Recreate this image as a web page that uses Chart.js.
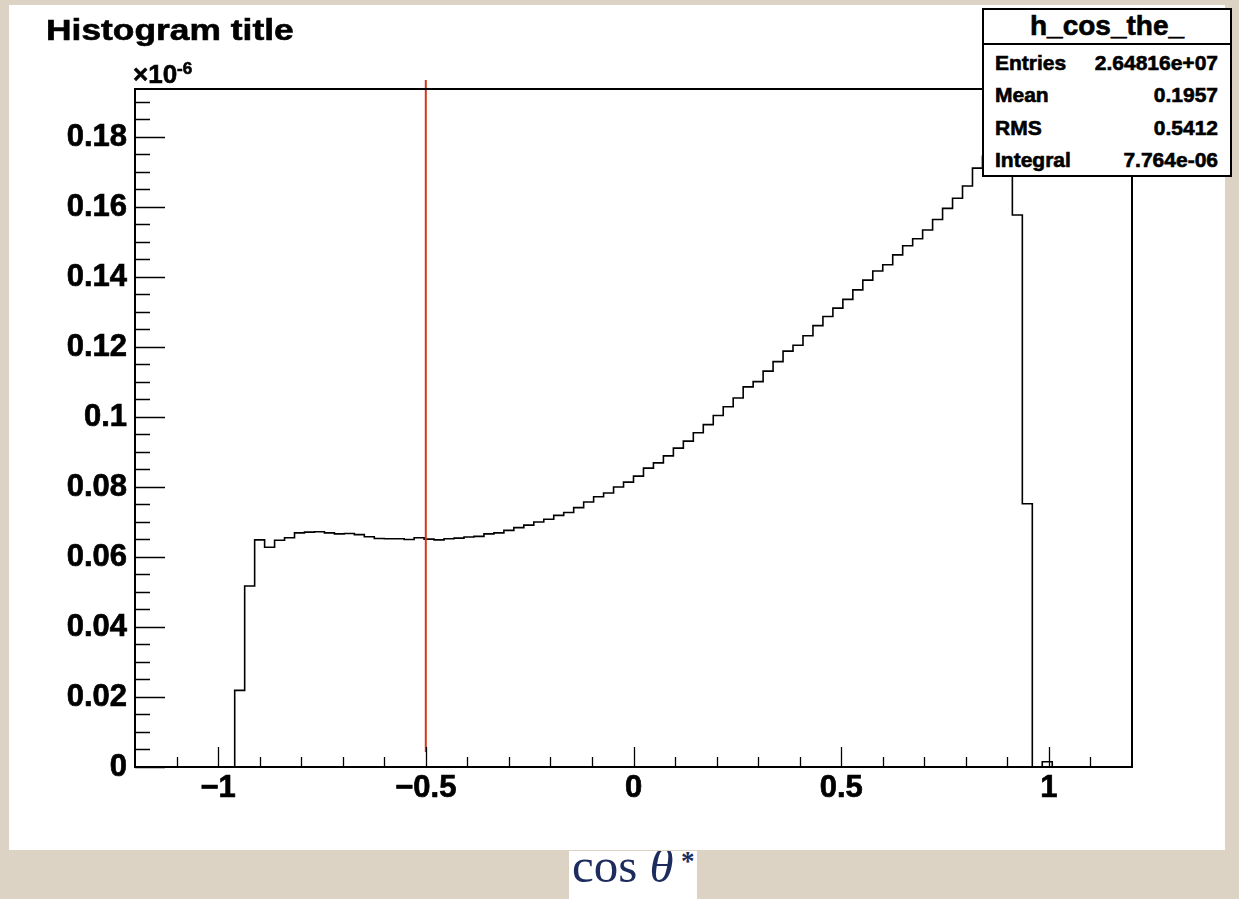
<!DOCTYPE html>
<html>
<head>
<meta charset="utf-8">
<script src="https://cdn.jsdelivr.net/npm/chart.js@4.4.0/dist/chart.umd.min.js"></script>
<style>
  html, body { margin: 0; padding: 0; }
  body {
    width: 1239px; height: 899px; position: relative; overflow: hidden;
    background: #dcd3c5;
    font-family: "Liberation Sans", Arial, Helvetica, sans-serif;
  }
  #pad { position: absolute; left: 9px; top: 5px; width: 1216px; height: 845px; background: #fff; }
  #plot { position: absolute; left: 0; top: 0; }
  .txt {
    position: absolute; line-height: 1; white-space: nowrap; font-weight: bold; color: #000;
    -webkit-text-stroke: 0.6px #000;
  }
  #title { left: 46px; top: 16px; font-size: 29px; transform: scaleX(1.22); transform-origin: 0 0; }
  #expo { left: 133px; top: 61px; font-size: 26px; }
  #expo sup { font-size: 17px; vertical-align: 0; position: relative; top: -9px; }
  #stats {
    position: absolute; left: 982px; top: 8px; width: 250px; height: 169px;
    box-sizing: border-box; border: 2px solid #000; background: #fff;
  }
  #stats .sep { position: absolute; left: 0; right: 0; top: 33px; border-top: 2px solid #000; }
  #stats .name { left: 0; right: 0; top: 2px; text-align: center; font-size: 28px; }
  #stats .lab { left: 11px; font-size: 21px; }
  #stats .val { right: 12px; font-size: 21px; text-align: right; }
  #xtitle { position: absolute; left: 569px; top: 851px; width: 128px; height: 48px; background: #fff; overflow: hidden; }
  #xtitle span {
    position: absolute; line-height: 1; white-space: nowrap;
    font-family: "Liberation Serif", "Times New Roman", serif; color: #1d2b5e;
  }
  #xtitle .t { left: 3px; top: -10px; font-size: 49px; }
  #xtitle i { font-style: italic; }
  #xtitle .star { left: 112px; top: -3px; font-size: 27px; font-weight: bold; }
</style>
</head>
<body>
<div id="pad"></div>
<canvas id="plot" width="1239" height="899"></canvas>

<div class="txt" id="title">Histogram title</div>
<div class="txt" id="expo">×10<sup>-6</sup></div>

<div id="stats">
  <div class="txt name">h_cos_the_</div>
  <div class="sep"></div>
  <div class="txt lab" style="top:42px">Entries</div>
  <div class="txt val" style="top:42px">2.64816e+07</div>
  <div class="txt lab" style="top:74px">Mean</div>
  <div class="txt val" style="top:74px">0.1957</div>
  <div class="txt lab" style="top:107px">RMS</div>
  <div class="txt val" style="top:107px">0.5412</div>
  <div class="txt lab" style="top:139px">Integral</div>
  <div class="txt val" style="top:139px">7.764e-06</div>
</div>

<div id="xtitle"><span class="t">cos <i>θ</i></span><span class="star">*</span></div>

<script>
// Histogram h_cos_the_: 100 bins on [-1.2, 1.2]; contents in units of 1e-6.
const HIST_MIN = -1.2;
const HIST_MAX = 1.2;
const N_BINS = 100;
// Index of the first bin listed below (its low edge is -0.96); all other bins are empty.
const FIRST_BIN = 10;
const binContents = [
  0.0219, 0.0517, 0.0649, 0.0628, 0.0648, 0.0655, 0.0669, 0.0671, 0.0672, 0.0669,
  0.0666, 0.0667, 0.0664, 0.0658, 0.0653, 0.0652, 0.0652, 0.0650, 0.0655, 0.0651,
  0.0649, 0.0652, 0.0654, 0.0657, 0.0659, 0.0666, 0.0669, 0.0676, 0.0684, 0.0691,
  0.0700, 0.0708, 0.0719, 0.0727, 0.0741, 0.0757, 0.0772, 0.0783, 0.0800, 0.0814,
  0.0831, 0.0854, 0.0869, 0.0889, 0.0911, 0.0931, 0.0955, 0.0978, 0.1004, 0.1029,
  0.1054, 0.1086, 0.1101, 0.1131, 0.1158, 0.1188, 0.1205, 0.1232, 0.1261, 0.1287,
  0.1311, 0.1336, 0.1363, 0.1391, 0.1417, 0.1435, 0.1463, 0.1489, 0.1509, 0.1534,
  0.1564, 0.1596, 0.1625, 0.1660, 0.1711, 0.1745, 0.1790, 0.1845, 0.1577, 0.0752,
  0.0000, 0.0015
];

// Axis settings
const X_RANGE = [-1.2, 1.2];
const Y_RANGE = [0, 0.1937];
const X_LABEL_STEP = 0.5;
const Y_LABEL_STEP = 0.02;
const X_MINOR_STEP = 0.1;
const Y_MINOR_STEP = 0.005;

// Vertical cut marker
const CUT_X = -0.5;
const CUT_Y = [0.0043, 0.1963];

const binWidth = (HIST_MAX - HIST_MIN) / N_BINS;
const histPoints = [];
for (let k = 0; k <= N_BINS; k++) {
  const j = k - FIRST_BIN;
  const content = (k < N_BINS && j >= 0 && j < binContents.length) ? binContents[j] : 0;
  histPoints.push({ x: HIST_MIN + k * binWidth, y: content });
}

const fmt = v => String(parseFloat(Number(v).toFixed(3)));
const fmtSigned = v => fmt(v).replace('-', '\u2212');
const tickFont = { family: '"Liberation Sans", Arial, sans-serif', size: 31, weight: 'bold' };

// Frame plus inward tick marks on the left and bottom axes
const frameTicks = {
  id: 'frameTicks',
  afterDatasetsDraw(chart) {
    const { ctx, chartArea: a, scales: { x, y } } = chart;
    ctx.save();
    ctx.strokeStyle = '#000';
    ctx.lineWidth = 1.3;
    ctx.beginPath();
    const nx0 = Math.ceil(X_RANGE[0] / X_MINOR_STEP - 1e-6);
    const nx1 = Math.floor(X_RANGE[1] / X_MINOR_STEP + 1e-6);
    const perX = Math.round(X_LABEL_STEP / X_MINOR_STEP);
    for (let i = nx0; i <= nx1; i++) {
      const v = i * X_MINOR_STEP;
      if (v <= X_RANGE[0] + 1e-9 || v >= X_RANGE[1] - 1e-9) continue;
      const px = Math.round(x.getPixelForValue(v)) + 0.5;
      const len = (i % perX === 0) ? 20 : 10;
      ctx.moveTo(px, a.bottom);
      ctx.lineTo(px, a.bottom - len);
    }
    const perY = Math.round(Y_LABEL_STEP / Y_MINOR_STEP);
    for (let i = 0; i * Y_MINOR_STEP <= Y_RANGE[1]; i++) {
      const py = Math.round(y.getPixelForValue(i * Y_MINOR_STEP)) + 0.5;
      const len = (i % perY === 0) ? 30 : 15;
      ctx.moveTo(a.left, py);
      ctx.lineTo(a.left + len, py);
    }
    ctx.stroke();
    ctx.lineWidth = 2;
    ctx.strokeRect(a.left, a.top, a.width, a.height);
    ctx.restore();
  }
};

const tickCommon = {
  includeBounds: false, autoSkip: false, maxRotation: 0, color: '#000', font: tickFont,
  textStrokeColor: '#000', textStrokeWidth: 0.7
};

new Chart(document.getElementById('plot'), {
  type: 'line',
  data: {
    datasets: [
      {
        label: 'cut',
        data: [{ x: CUT_X, y: CUT_Y[0] }, { x: CUT_X, y: CUT_Y[1] }],
        borderColor: '#d6351c',
        borderWidth: 2,
        pointRadius: 0,
        clip: false
      },
      {
        label: 'h_cos_the_',
        data: histPoints,
        stepped: 'before',
        borderColor: '#000',
        borderWidth: 1.6,
        pointRadius: 0,
        fill: false
      }
    ]
  },
  options: {
    responsive: false,
    animation: false,
    events: [],
    layout: { padding: { left: 0, top: 89, right: 107, bottom: 0 } },
    plugins: { legend: { display: false }, tooltip: { enabled: false }, title: { display: false } },
    scales: {
      x: {
        type: 'linear',
        min: X_RANGE[0], max: X_RANGE[1],
        grid: { display: false, drawTicks: false },
        border: { display: false },
        afterFit: s => { s.height = 132; },
        ticks: Object.assign({ stepSize: X_LABEL_STEP, padding: 3, callback: v => fmtSigned(v) }, tickCommon)
      },
      y: {
        type: 'linear',
        min: Y_RANGE[0], max: Y_RANGE[1],
        grid: { display: false, drawTicks: false },
        border: { display: false },
        afterFit: s => { s.width = 135; },
        ticks: Object.assign({ stepSize: Y_LABEL_STEP, padding: 8, callback: v => fmt(v) }, tickCommon)
      }
    }
  },
  plugins: [frameTicks]
});
</script>
</body>
</html>
